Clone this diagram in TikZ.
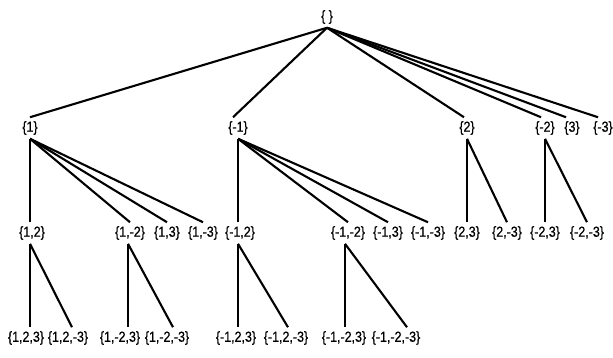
\documentclass[tikz,border=0pt]{standalone}
\usepackage{fontspec}
\setmainfont[FakeStretch=0.86,FakeBold=0.6]{Liberation Sans}
\begin{document}
\begin{tikzpicture}[x=1pt,y=-1pt,
  lab/.style={inner sep=0pt, outer sep=4pt, font=\fontsize{14.5}{15}\selectfont},
  diag/.style={line width=2.1pt},
  vert/.style={line width=1.2pt}]
\useasboundingbox (0,0) rectangle (613,358);
% level 0
\node[lab] (r) at (327,17) {\{ \}};
% level 1
\node[lab] (a1) at (30,128) {\{1\}};
\node[lab] (am1) at (238,128) {\{-1\}};
\node[lab] (a2) at (467,128) {\{2\}};
\node[lab] (am2) at (545,128) {\{-2\}};
\node[lab] (a3) at (572,128) {\{3\}};
\node[lab] (am3) at (603,128) {\{-3\}};
% level 2
\node[lab] (b12) at (32,233) {\{1,2\}};
\node[lab] (b1m2) at (130,233) {\{1,-2\}};
\node[lab] (b13) at (167,233) {\{1,3\}};
\node[lab] (b1m3) at (203,233) {\{1,-3\}};
\node[lab] (bm12) at (240,233) {\{-1,2\}};
\node[lab] (bm1m2) at (348,233) {\{-1,-2\}};
\node[lab] (bm13) at (388,233) {\{-1,3\}};
\node[lab] (bm1m3) at (428,233) {\{-1,-3\}};
\node[lab] (b23) at (467,233) {\{2,3\}};
\node[lab] (b2m3) at (507,233) {\{2,-3\}};
\node[lab] (bm23) at (545,233) {\{-2,3\}};
\node[lab] (bm2m3) at (587,233) {\{-2,-3\}};
% level 3
\node[lab] (c123) at (26,338) {\{1,2,3\}};
\node[lab] (c12m3) at (68,338) {\{1,2,-3\}};
\node[lab] (c1m23) at (120,338) {\{1,-2,3\}};
\node[lab] (c1m2m3) at (167,338) {\{1,-2,-3\}};
\node[lab] (cm123) at (236,338) {\{-1,2,3\}};
\node[lab] (cm12m3) at (286,338) {\{-1,2,-3\}};
\node[lab] (cm1m23) at (344,338) {\{-1,-2,3\}};
\node[lab] (cm1m2m3) at (396,338) {\{-1,-2,-3\}};
% edges level 0 -> 1
\draw[diag] (r.south) -- (a1.north);
\draw[diag] (r.south) -- ([xshift=-5pt]am1.north);
\draw[diag] (r.south) -- ([xshift=-3pt]a2.north);
\draw[diag] (r.south) -- ([xshift=-4pt]am2.north);
\draw[diag] (r.south) -- ([xshift=-6pt]a3.north);
\draw[diag] (r.south) -- ([xshift=-5pt]am3.north);
% edges level 1 -> 2
\draw[vert] (a1.south) -- (a1.south |- b12.north);
\draw[diag] (a1.south) -- (b1m2.north);
\draw[diag] (a1.south) -- (b13.north);
\draw[diag] (a1.south) -- (b1m3.north);
\draw[vert] (am1.south) -- (am1.south |- bm12.north);
\draw[diag] (am1.south) -- (bm1m2.north);
\draw[diag] (am1.south) -- (bm13.north);
\draw[diag] (am1.south) -- (bm1m3.north);
\draw[vert] (a2.south) -- (a2.south |- b23.north);
\draw[diag] (a2.south) -- (b2m3.north);
\draw[vert] (am2.south) -- (am2.south |- bm23.north);
\draw[diag] (am2.south) -- (bm2m3.north);
% edges level 2 -> 3
\coordinate (s12) at ([xshift=-2pt]b12.south);
\draw[vert] (s12) -- (s12 |- c123.north);
\draw[diag] (s12) -- ([xshift=4pt]c12m3.north);
\coordinate (s1m2) at ([xshift=-2pt]b1m2.south);
\draw[vert] (s1m2) -- (s1m2 |- c1m23.north);
\draw[diag] (s1m2) -- ([xshift=6pt]c1m2m3.north);
\coordinate (sm12) at ([xshift=-2pt]bm12.south);
\draw[vert] (sm12) -- (sm12 |- cm123.north);
\draw[diag] (sm12) -- ([xshift=2pt]cm12m3.north);
\coordinate (sm1m2) at ([xshift=-3pt]bm1m2.south);
\draw[vert] (sm1m2) -- (sm1m2 |- cm1m23.north);
\draw[diag] (sm1m2) -- ([xshift=11pt]cm1m2m3.north);
\end{tikzpicture}
\end{document}
